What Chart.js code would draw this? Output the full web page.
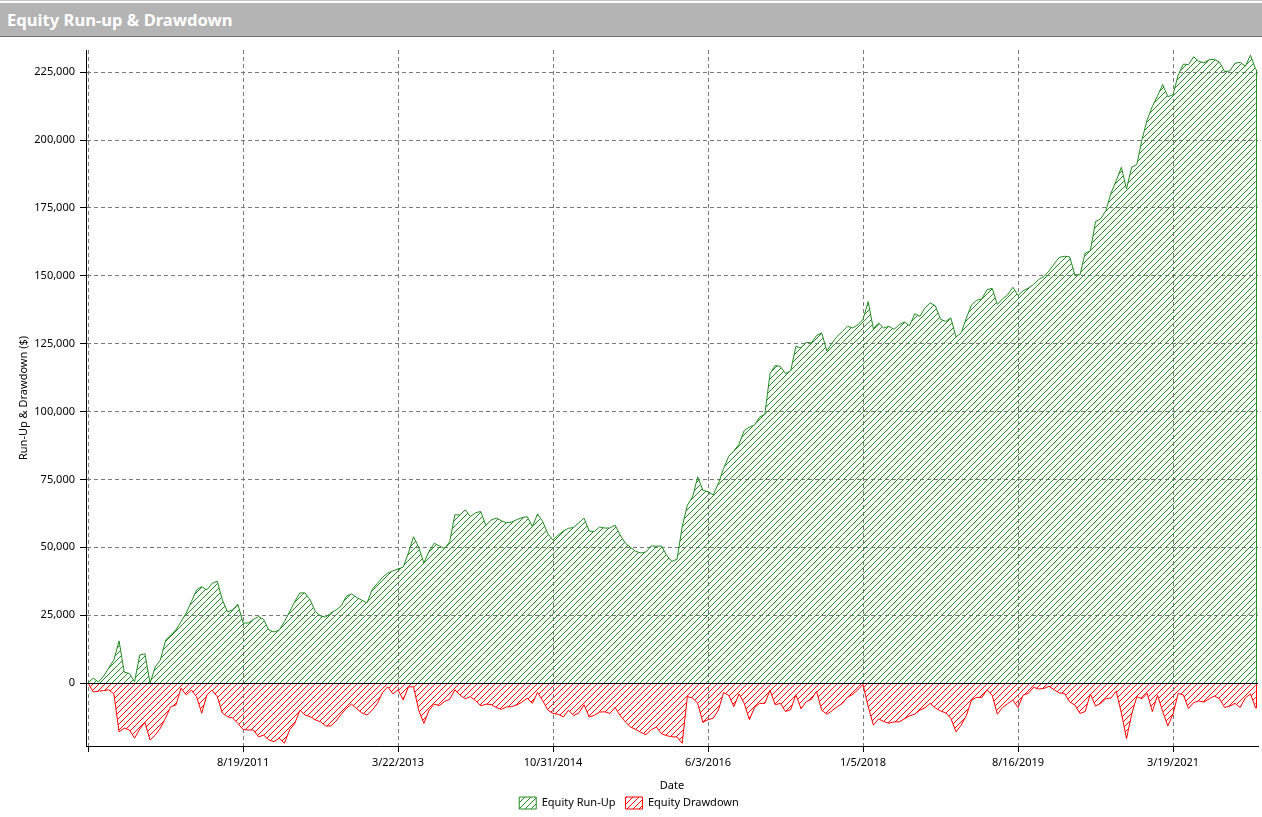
<!DOCTYPE html>
<html>
<head>
<meta charset="utf-8">
<title>Equity Run-up &amp; Drawdown</title>
<script src="https://cdn.jsdelivr.net/npm/chart.js@4.4.1/dist/chart.umd.min.js"></script>
<style>
  html, body { margin: 0; padding: 0; background: #fff; }
  body { width: 1262px; height: 817px; overflow: hidden; position: relative; font-family: 'Noto Sans', sans-serif; }
  .topline { position: absolute; left: 0; top: 0; width: 1262px; height: 1px; background: #c4c4c4; }
  .header { position: absolute; left: 0; top: 3px; width: 1262px; height: 33px; background: #b4b4b4; border-bottom: 1px solid #6f6f6f; }
  .header span { position: absolute; left: 7px; top: 6px; line-height: 22px; color: #fff; font-weight: bold; font-size: 16.6px; }
  #chartBox { position: absolute; left: 0; top: 38px; width: 1262px; height: 779px; }
</style>
</head>
<body>
<div class="topline"></div>
<div class="header"><span>Equity Run-up &amp; Drawdown</span></div>
<div id="chartBox"><canvas id="chart" width="1262" height="779"></canvas></div>
<script>
// x axis: bars sampled evenly, one tick label every 30 samples
const barsPerTick = 30;
const tickLabels = ['', '8/19/2011', '3/22/2013', '10/31/2014', '6/3/2016', '1/5/2018', '8/16/2019', '3/19/2021'];
const yTicks = [0, 25000, 50000, 75000, 100000, 125000, 150000, 175000, 200000, 225000];

const runUp = [
  0, 1800, 400, 2500, 5500, 8500, 15500, 4000, 3500, 500,
  10300, 10800, 0, 5900, 8500, 15800, 17700, 19500, 22600, 25800,
  30000, 34300, 35500, 34300, 36700, 37500, 30600, 26200, 27000, 29000,
  22100, 22100, 23400, 24500, 23400, 19500, 18800, 19500, 22600, 26200,
  30000, 33200, 33200, 30600, 26300, 24700, 24300, 25800, 26900, 28400,
  32000, 32800, 31500, 30500, 29500, 34500, 36700, 39000, 40500, 41300,
  42000, 42700, 47900, 53900, 50000, 44200, 48500, 51500, 50500, 49500,
  52100, 62000, 61900, 63800, 61300, 62700, 63200, 58000, 60000, 60800,
  59800, 59000, 59300, 60200, 60900, 61300, 57600, 62300, 59500, 55000,
  52700, 54500, 56000, 57000, 57300, 59000, 60800, 56000, 55800, 57500,
  57100, 57100, 58200, 54500, 51500, 50000, 48500, 47900, 48300, 50500,
  50400, 50500, 47000, 44800, 45600, 57600, 65500, 68500, 76000, 71000,
  70500, 69300, 73500, 79000, 83500, 85500, 88000, 93000, 94300, 95000,
  98000, 99000, 114000, 117000, 116600, 114000, 115000, 124000, 123500, 125500,
  125300, 128000, 129000, 122300, 125300, 127700, 129500, 131400, 130800, 132000,
  134000, 140500, 130500, 132600, 130800, 131400, 130300, 132000, 133000, 131600,
  136000, 135100, 138200, 140000, 139000, 134000, 133200, 134500, 127500, 129000,
  134500, 139300, 141000, 141500, 144900, 145400, 139500, 141500, 143000, 145800,
  142800, 144500, 145500, 146800, 148700, 149700, 151800, 154400, 156800, 157200,
  157000, 150400, 150400, 158400, 159200, 170000, 171000, 174000, 180500, 185000,
  190000, 182000, 190000, 191000, 200200, 207500, 212400, 216300, 220500, 216000,
  216700, 224000, 228000, 227800, 230700, 229000, 228500, 229600, 229800, 228700,
  225200, 225500, 228300, 228700, 227200, 231300, 226000
];

const drawdown = [
  0, -3300, -3000, -2800, -2500, -4000, -18000, -16600, -17300, -20300,
  -17000, -14500, -21000, -19200, -16600, -12900, -8700, -8100, -1900, -4400,
  -2600, -5000, -11100, -4400, -2600, -5000, -11100, -12400, -12900, -14900,
  -17100, -17300, -17300, -19800, -19200, -21000, -21600, -20300, -22200, -17300,
  -14900, -10000, -11800, -12400, -13600, -14300, -15800, -15800, -14000, -11500,
  -9300, -7800, -9500, -11000, -11800, -10000, -7500, -3500, -1400, -4000,
  -2500, -6300, -1400, -1400, -10000, -14900, -10000, -7800, -8300, -6800,
  -6000, -2500, -4500, -5800, -5000, -6500, -8400, -7800, -7900, -9000,
  -9700, -8800, -8700, -8100, -7000, -5600, -7500, -3500, -6500, -10000,
  -11200, -11500, -12500, -10000, -12000, -11000, -8000, -12500, -11900, -10700,
  -10600, -11200, -9000, -12000, -14300, -16200, -17100, -18200, -19000, -17200,
  -16200, -18700, -19400, -19800, -19900, -22200, -5000, -5500, -7500, -14500,
  -13500, -13000, -10000, -3500, -4500, -8700, -4000, -7500, -13500, -9000,
  -7500, -7500, -2600, -8000, -7500, -10500, -9800, -4300, -9500, -6900,
  -6000, -3000, -10000, -11500, -10200, -8700, -7500, -5200, -4200, -2500,
  -500, -8700, -15500, -13200, -14200, -14800, -14300, -14300, -13200, -12100,
  -11500, -10000, -9100, -7500, -9200, -10300, -11000, -13000, -18000, -15500,
  -12000, -6300, -5300, -5300, -2500, -4500, -11500, -9000, -7600, -6300,
  -9000, -4400, -3800, -1600, -2200, -2000, -1200, -2500, -3700, -3800,
  -7000, -8100, -11200, -10500, -4000, -8500, -7500, -5800, -5500, -3000,
  -11000, -20500, -11500, -5000, -5800, -3800, -10500, -4500, -10500, -15800,
  -11500, -3800, -4400, -9400, -7200, -6600, -7000, -5800, -4800, -5800,
  -9000, -8500, -7500, -9000, -5500, -4000, -9300
];

const FONT = "'Noto Sans', 'Open Sans', sans-serif";
const GREEN = '#228B22';
const RED = '#FF0000';
const HATCH_STEP = 6;

const canvas = document.getElementById('chart');
const ctx = canvas.getContext('2d');

// small tile, only used for the legend boxes
function hatchTile(color) {
  const tile = document.createElement('canvas');
  tile.width = HATCH_STEP;
  tile.height = HATCH_STEP;
  const g = tile.getContext('2d');
  g.fillStyle = color;
  for (let k = 0; k < HATCH_STEP; k++) g.fillRect(k, HATCH_STEP - 1 - k, 1, 1);
  return ctx.createPattern(tile, 'repeat');
}

// full-size hatch layer, crisp 1px "/" lines
function hatchLayer(rgb, w, h) {
  const c = document.createElement('canvas');
  c.width = w;
  c.height = h;
  const g = c.getContext('2d');
  const img = g.createImageData(w, h);
  for (let yy = 0; yy < h; yy++) {
    for (let xx = 0; xx < w; xx++) {
      if ((xx + yy) % HATCH_STEP === 0) {
        const o = (yy * w + xx) * 4;
        img.data[o] = rgb[0];
        img.data[o + 1] = rgb[1];
        img.data[o + 2] = rgb[2];
        img.data[o + 3] = 255;
      }
    }
  }
  g.putImageData(img, 0, 0);
  return c;
}

const layers = [
  hatchLayer([34, 139, 34], canvas.width, canvas.height),
  hatchLayer([255, 0, 0], canvas.width, canvas.height)
];

// hatched area between each curve and zero
const hatchFill = {
  id: 'hatchFill',
  beforeDatasetsDraw(chart) {
    const { ctx, chartArea, scales: { y } } = chart;
    const base = y.getPixelForValue(0);
    chart.data.datasets.forEach((ds, i) => {
      const pts = chart.getDatasetMeta(i).data;
      if (!pts.length) return;
      ctx.save();
      ctx.beginPath();
      ctx.rect(chartArea.left, chartArea.top, chartArea.right - chartArea.left, chartArea.bottom - chartArea.top);
      ctx.clip();
      ctx.beginPath();
      ctx.moveTo(pts[0].x, base);
      pts.forEach(p => ctx.lineTo(p.x, p.y));
      ctx.lineTo(pts[pts.length - 1].x, base);
      ctx.closePath();
      ctx.clip();
      ctx.drawImage(layers[i], 0, 0);
      ctx.restore();
    });
  },
  afterDatasetsDraw(chart) {
    const { ctx, chartArea, scales: { y } } = chart;
    const base = y.getPixelForValue(0);
    // closing edge of each area at the last bar
    chart.data.datasets.forEach((ds, i) => {
      const pts = chart.getDatasetMeta(i).data;
      const last = pts[pts.length - 1];
      ctx.save();
      ctx.strokeStyle = ds.borderColor;
      ctx.lineWidth = 1;
      ctx.beginPath();
      ctx.moveTo(Math.round(last.x) + 0.5, last.y);
      ctx.lineTo(Math.round(last.x) + 0.5, base);
      ctx.stroke();
      ctx.restore();
    });
    // solid zero line
    const yPos = Math.round(base) + 0.5;
    ctx.save();
    ctx.strokeStyle = '#000';
    ctx.lineWidth = 1;
    ctx.beginPath();
    ctx.moveTo(chartArea.left, yPos);
    ctx.lineTo(chartArea.right, yPos);
    ctx.stroke();
    ctx.restore();
  }
};

const legendHeight = {
  id: 'legendHeight',
  beforeInit(chart) {
    const fit = chart.legend.fit;
    chart.legend.fit = function () {
      fit.bind(chart.legend)();
      this.height = 30;
    };
  }
};

new Chart(ctx, {
  type: 'line',
  data: {
    datasets: [
      {
        label: 'Equity Run-Up',
        data: runUp.map((v, i) => ({ x: i, y: v })),
        borderColor: GREEN,
        backgroundColor: hatchTile(GREEN),
        borderWidth: 1,
        pointRadius: 0,
        tension: 0,
        fill: false
      },
      {
        label: 'Equity Drawdown',
        data: drawdown.map((v, i) => ({ x: i, y: v })),
        borderColor: RED,
        backgroundColor: hatchTile(RED),
        borderWidth: 1,
        pointRadius: 0,
        tension: 0,
        fill: false
      }
    ]
  },
  options: {
    responsive: false,
    maintainAspectRatio: false,
    animation: false,
    events: [],
    layout: { padding: { top: 12, right: 4, left: 0, bottom: 0 } },
    plugins: {
      tooltip: { enabled: false },
      legend: {
        position: 'bottom',
        labels: {
          boxWidth: 17,
          boxHeight: 12,
          padding: 10,
          color: '#000',
          font: { family: FONT, size: 11 }
        }
      }
    },
    scales: {
      x: {
        type: 'linear',
        min: -0.4,
        max: 226.45,
        afterFit(scale) { scale.height = 41; },
        afterBuildTicks(scale) {
          scale.ticks = tickLabels.map((t, k) => ({ value: k * barsPerTick }));
        },
        ticks: {
          autoSkip: false,
          maxRotation: 0,
          padding: 4,
          color: '#000',
          font: { family: FONT, size: 11 },
          callback: (v, idx) => tickLabels[idx]
        },
        grid: {
          color: '#7a7a7a',
          tickLength: 6,
          tickColor: '#000',
          tickBorderDash: []
        },
        border: { color: '#000', width: 1, dash: [4, 3] },
        title: {
          display: true,
          text: 'Date',
          color: '#000',
          font: { family: FONT, size: 11 },
          padding: { top: 0, bottom: -5 }
        }
      },
      y: {
        min: -23200,
        max: 233200,
        afterFit(scale) { scale.width = 86; },
        afterBuildTicks(scale) {
          scale.ticks = yTicks.map(v => ({ value: v }));
        },
        ticks: {
          padding: 5,
          color: '#000',
          font: { family: FONT, size: 11 },
          callback: v => v.toLocaleString('en-US')
        },
        grid: {
          color: '#7a7a7a',
          tickLength: 6,
          tickColor: '#000',
          tickBorderDash: []
        },
        border: { color: '#000', width: 1, dash: [4, 3] },
        title: {
          display: true,
          text: 'Run-Up & Drawdown ($)',
          color: '#000',
          font: { family: FONT, size: 11 },
          padding: { top: 17, bottom: 0 }
        }
      }
    }
  },
  plugins: [hatchFill, legendHeight]
});
</script>
</body>
</html>
